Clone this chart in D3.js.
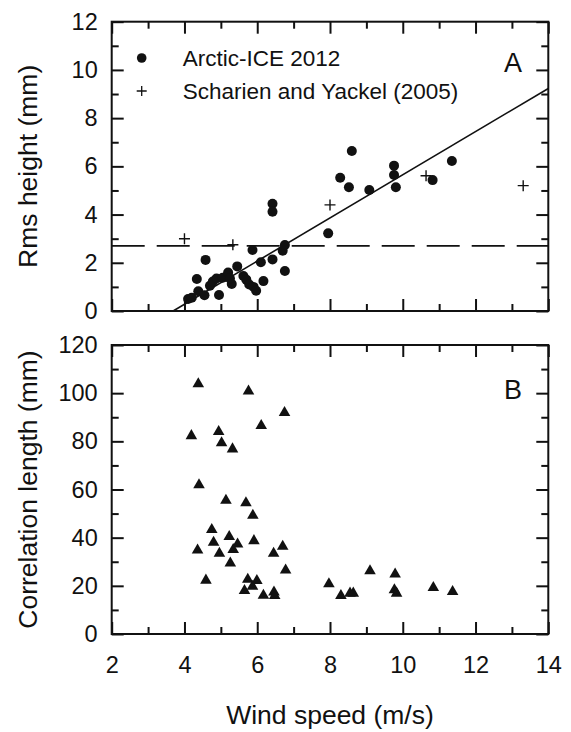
<!DOCTYPE html>
<html>
<head>
<meta charset="utf-8">
<script src="https://cdn.jsdelivr.net/npm/d3@7"></script>
<style>
  html, body { margin: 0; padding: 0; background: #fff; }
  svg { display: block; }
  text { font-family: "Liberation Sans", Arial, Helvetica, sans-serif; fill: #111; }
</style>
</head>
<body>
<svg id="chart" width="571" height="732"></svg>
<script>
// Wind speed axis (shared by both panels)
const windTicks = [2, 4, 6, 8, 10, 12, 14];
const windMinor = [3, 5, 7, 9, 11, 13];

// Panel A: rms height (mm)
const rmsTicks = [0, 2, 4, 6, 8, 10, 12];
const rmsMinor = [1, 3, 5, 7, 9, 11];

// Panel B: correlation length (mm)
const clTicks = [0, 20, 40, 60, 80, 100, 120];
const clMinor = [10, 30, 50, 70, 90, 110];

// Arctic-ICE 2012 rms height measurements
const arcticWind = [4.10, 4.20, 4.34, 4.38, 4.55, 4.58, 4.70, 4.78, 4.88, 4.95,
                    5.05, 5.20, 5.30, 5.25, 5.45, 5.62, 5.70, 5.78, 5.90, 5.97,
                    5.87, 6.10, 6.17, 6.42, 6.42, 6.42, 6.70, 6.76, 6.76, 7.95,
                    8.28, 8.52, 8.60, 9.08, 9.76, 9.76, 9.81, 10.82, 11.35];
const arcticRms  = [0.50, 0.55, 1.33, 0.82, 0.65, 2.12, 1.05, 1.22, 1.35, 0.66,
                    1.38, 1.60, 1.12, 1.35, 1.85, 1.45, 1.30, 1.10, 1.00, 0.84,
                    2.53, 2.02, 1.24, 2.14, 4.45, 4.12, 2.50, 2.74, 1.66, 3.22,
                    5.53, 5.13, 6.64, 5.02, 6.03, 5.64, 5.13, 5.43, 6.22];

// Scharien and Yackel (2005)
const scharienWind = [4.0, 5.33, 8.0, 10.64, 13.31];
const scharienRms  = [3.0, 2.75, 4.40, 5.61, 5.20];

// Linear fit of rms height against wind speed, and constant reference level
const fitSlope = 0.895;
const fitIntercept = -3.3;
const rmsReference = 2.7;

// Correlation length measurements
const clWind   = [4.38, 5.76, 6.75, 6.11, 4.19, 4.94, 5.02, 5.32, 4.40, 5.14,
                  5.69, 5.88, 4.75, 5.23, 4.80, 5.91, 5.46, 5.34, 4.36, 4.96,
                  6.45, 6.70, 5.26, 6.78, 4.59, 5.74, 5.99, 5.87, 5.65, 6.17,
                  6.46, 6.48, 7.97, 8.30, 8.55, 8.64, 9.10, 9.79, 9.77, 9.83,
                  10.84, 11.37];
const clLength = [103.8, 100.8, 91.9, 86.5, 82.3, 84.0, 79.3, 76.8, 61.9, 55.5,
                  54.4, 49.2, 43.3, 40.4, 38.0, 38.7, 37.3, 35.0, 34.8, 33.5,
                  33.5, 36.4, 29.4, 26.5, 22.3, 22.7, 22.1, 19.8, 18.0, 16.0,
                  17.4, 15.9, 20.8, 15.9, 16.9, 16.9, 26.2, 24.8, 18.3, 16.9,
                  19.2, 17.6];

const legendLabels = ["Arctic-ICE 2012", "Scharien and Yackel (2005)"];

const svg = d3.select("#chart");
const ink = "#111";

const plotLeft = 111.7, plotRight = 548.3;
const panelA = { top: 21.7, bottom: 311 };
const panelB = { top: 345, bottom: 634 };

const x = d3.scaleLinear().domain([2, 14]).range([plotLeft, plotRight]);
const yA = d3.scaleLinear().domain([0, 12]).range([panelA.bottom, panelA.top]);
const yB = d3.scaleLinear().domain([0, 120]).range([panelB.bottom, panelB.top]);

function styleAxis(g, fontSize) {
  g.select(".domain").remove();
  g.selectAll(".tick line").attr("stroke", ink).attr("stroke-width", 2);
  g.selectAll(".tick text").attr("font-size", fontSize).attr("fill", ink)
    .attr("font-family", "Liberation Sans, Arial, sans-serif");
}

function drawFrame(panel, y, yMajor, yMinor, showXLabels) {
  const g = svg.append("g");
  const majorLen = 12, minorLen = 7;

  // bottom
  const gb = g.append("g").attr("transform", `translate(0,${panel.bottom})`)
    .call(d3.axisBottom(x).tickValues(windTicks).tickSize(-majorLen)
      .tickPadding(22.5).tickFormat(showXLabels ? d3.format("d") : () => ""));
  styleAxis(gb, 23.5);
  const gbm = g.append("g").attr("transform", `translate(0,${panel.bottom})`)
    .call(d3.axisBottom(x).tickValues(windMinor).tickSize(-minorLen).tickFormat(() => ""));
  styleAxis(gbm, 0);

  // top
  const gt = g.append("g").attr("transform", `translate(0,${panel.top})`)
    .call(d3.axisTop(x).tickValues(windTicks).tickSize(-majorLen).tickFormat(() => ""));
  styleAxis(gt, 0);
  const gtm = g.append("g").attr("transform", `translate(0,${panel.top})`)
    .call(d3.axisTop(x).tickValues(windMinor).tickSize(-minorLen).tickFormat(() => ""));
  styleAxis(gtm, 0);

  // left
  const gl = g.append("g").attr("transform", `translate(${plotLeft},0)`)
    .call(d3.axisLeft(y).tickValues(yMajor).tickSize(-majorLen).tickPadding(14)
      .tickFormat(d3.format("d")));
  styleAxis(gl, 23.5);
  const glm = g.append("g").attr("transform", `translate(${plotLeft},0)`)
    .call(d3.axisLeft(y).tickValues(yMinor).tickSize(-minorLen).tickFormat(() => ""));
  styleAxis(glm, 0);

  // right
  const gr = g.append("g").attr("transform", `translate(${plotRight},0)`)
    .call(d3.axisRight(y).tickValues(yMajor).tickSize(-majorLen).tickFormat(() => ""));
  styleAxis(gr, 0);
  const grm = g.append("g").attr("transform", `translate(${plotRight},0)`)
    .call(d3.axisRight(y).tickValues(yMinor).tickSize(-minorLen).tickFormat(() => ""));
  styleAxis(grm, 0);

  g.append("rect")
    .attr("x", plotLeft).attr("y", panel.top)
    .attr("width", plotRight - plotLeft).attr("height", panel.bottom - panel.top)
    .attr("fill", "none").attr("stroke", ink).attr("stroke-width", 2);
}

// ---------- Panel A ----------
const gA = svg.append("g");

// constant reference level
gA.append("line")
  .attr("x1", x(2)).attr("x2", x(14))
  .attr("y1", yA(rmsReference)).attr("y2", yA(rmsReference))
  .attr("stroke", ink).attr("stroke-width", 1.6)
  .attr("stroke-dasharray", "33,12");

// regression line, from its zero crossing to the right edge
const xZero = -fitIntercept / fitSlope;
const fitLine = d3.line().x(d => x(d)).y(d => yA(fitSlope * d + fitIntercept));
gA.append("path")
  .attr("d", fitLine([xZero, 14]))
  .attr("fill", "none").attr("stroke", ink).attr("stroke-width", 1.6);

// Arctic-ICE points
gA.selectAll("circle.arctic")
  .data(d3.range(arcticWind.length))
  .join("circle")
  .attr("class", "arctic")
  .attr("cx", i => x(arcticWind[i]))
  .attr("cy", i => yA(arcticRms[i]))
  .attr("r", 5)
  .attr("fill", ink);

// Scharien and Yackel crosses
const cross = d3.symbol().type(d3.symbolCross).size(90);
const plusPath = (s) => `M${-s},0H${s}M0,${-s}V${s}`;
gA.selectAll("path.scharien")
  .data(d3.range(scharienWind.length))
  .join("path")
  .attr("class", "scharien")
  .attr("transform", i => `translate(${x(scharienWind[i])},${yA(scharienRms[i])})`)
  .attr("d", plusPath(5.5))
  .attr("fill", "none").attr("stroke", ink).attr("stroke-width", 1.4);

// legend
const legendX = 141.7, legendY0 = 58, legendDy = 33;
gA.append("circle").attr("cx", legendX).attr("cy", legendY0).attr("r", 4.8).attr("fill", ink);
gA.append("path")
  .attr("transform", `translate(${legendX},${legendY0 + legendDy})`)
  .attr("d", plusPath(5))
  .attr("fill", "none").attr("stroke", ink).attr("stroke-width", 1.3);
legendLabels.forEach((t, i) => {
  gA.append("text")
    .attr("x", 182.7).attr("y", legendY0 + i * legendDy + 7.5)
    .attr("font-size", 22.5)
    .text(t);
});

gA.append("text")
  .attr("x", 522).attr("y", 71.7)
  .attr("text-anchor", "end").attr("font-size", 27)
  .text("A");

drawFrame(panelA, yA, rmsTicks, rmsMinor, false);

// ---------- Panel B ----------
const gB = svg.append("g");
const tri = d3.symbol().type(d3.symbolTriangle).size(58);
gB.selectAll("path.cl")
  .data(d3.range(clWind.length))
  .join("path")
  .attr("class", "cl")
  .attr("transform", i => `translate(${x(clWind[i])},${yB(clLength[i])})`)
  .attr("d", tri())
  .attr("fill", ink);

gB.append("text")
  .attr("x", 522).attr("y", 399.3)
  .attr("text-anchor", "end").attr("font-size", 27)
  .text("B");

drawFrame(panelB, yB, clTicks, clMinor, true);

// ---------- Axis titles ----------
svg.append("text")
  .attr("transform", `translate(37,${(panelA.top + panelA.bottom) / 2}) rotate(-90)`)
  .attr("text-anchor", "middle").attr("font-size", 26.5)
  .text("Rms height (mm)");

svg.append("text")
  .attr("transform", `translate(37,${(panelB.top + panelB.bottom) / 2}) rotate(-90)`)
  .attr("text-anchor", "middle").attr("font-size", 26.5)
  .text("Correlation length (mm)");

svg.append("text")
  .attr("x", (plotLeft + plotRight) / 2).attr("y", 724)
  .attr("text-anchor", "middle").attr("font-size", 26.5)
  .text("Wind speed (m/s)");
</script>
</body>
</html>
